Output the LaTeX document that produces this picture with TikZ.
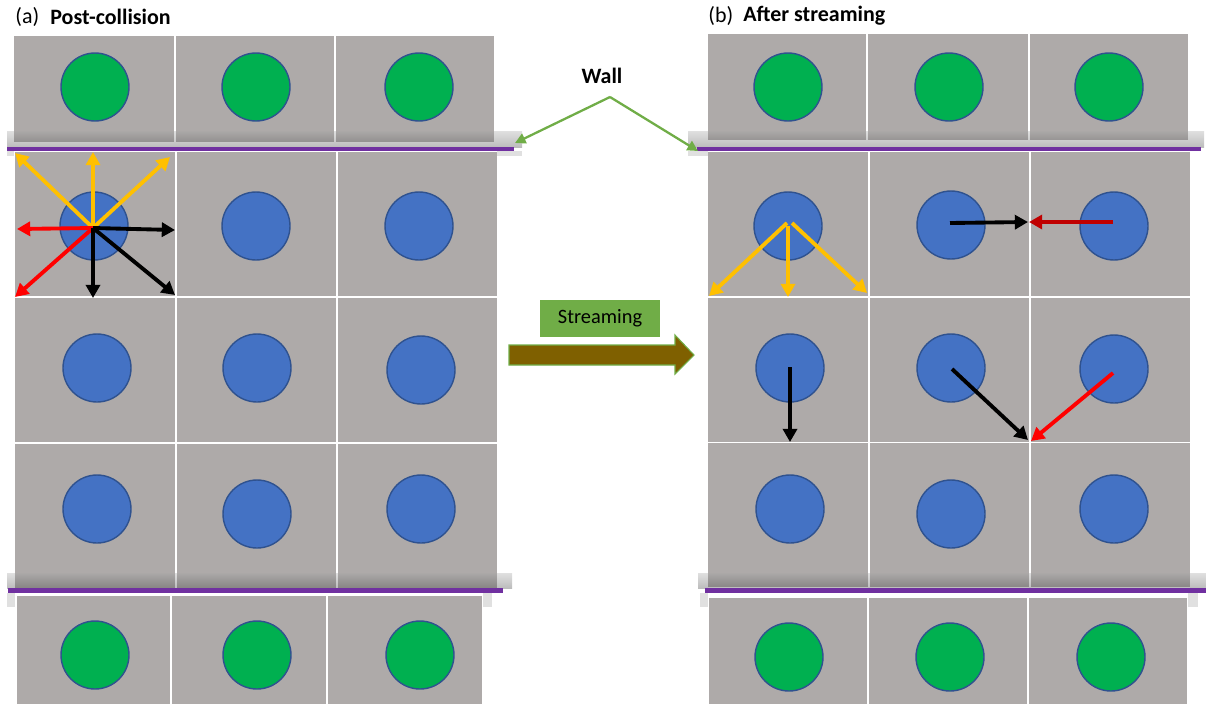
\documentclass[tikz,border=0pt]{standalone}
\usepackage{fontspec}
\setmainfont{Carlito}
\usetikzlibrary{arrows.meta}

\definecolor{cellgray}{RGB}{174,170,169}
\definecolor{dotgreen}{RGB}{0,176,80}
\definecolor{dotblue}{RGB}{68,114,196}
\definecolor{dotedge}{RGB}{47,82,143}
\definecolor{wallpurple}{RGB}{112,48,160}
\definecolor{vecyellow}{RGB}{255,192,0}
\definecolor{vecdarkred}{RGB}{192,0,0}
\definecolor{labelgreen}{RGB}{112,173,71}
\definecolor{arrowbrown}{RGB}{127,96,0}

\tikzset{
  fluid/.style={circle, fill=dotblue, draw=dotedge, line width=0.8pt, minimum size=1.36cm, inner sep=0pt},
  solid/.style={fluid, fill=dotgreen},
  vec/.style={line width=2.2pt, -{Triangle[length=7.5pt,width=8pt]}},
  wallshade/.style={top color=black!35, bottom color=black!75, opacity=0.35},
  wallline/.style={labelgreen, line width=1.3pt, -{Triangle[length=6pt,width=6pt]}},
  title/.style={anchor=west, inner sep=0pt, font=\fontsize{12.5}{15}\selectfont},
}

\begin{document}
\begin{tikzpicture}[x=0.02cm, y=-0.02cm]
  \useasboundingbox (0,0) rectangle (1206,704);

  % titles
  \node[title] (ta) at (15,17) {(a)};
  \node[title, font=\fontsize{12.5}{15}\selectfont\bfseries] (tpost) at (50,17) {Post-collision};
  \node[title] (tb) at (708,16) {(b)};
  \node[title, font=\fontsize{12.5}{15}\selectfont\bfseries] (tafter) at (743,16) {After streaming};

  % lattice cells
  \foreach \x/\w in {14/160,176/158,336/158} \fill[cellgray] (\x,36) rectangle ++(\w,106);
  \foreach \x/\w in {708/158,868/160,1030/158} \fill[cellgray] (\x,34) rectangle ++(\w,106);
  \foreach \x/\w in {15/160,177/159,338/159}
    \foreach \y in {152,298,444} \fill[cellgray] (\x,\y) rectangle ++(\w,144);
  \foreach \x/\w in {708/160,870/159,1031/159}
    \foreach \y in {152,298,443} \fill[cellgray] (\x,\y) rectangle ++(\w,144);
  \foreach \x/\w in {17/153,172/154,328/154} \fill[cellgray] (\x,596) rectangle ++(\w,108);
  \foreach \x/\w in {709/158,869/158,1029/158} \fill[cellgray] (\x,598) rectangle ++(\w,106);

  % walls
  \shade[wallshade] (7,131) rectangle (522,147);
  \shade[wallshade] (688,131) rectangle (1204,147);
  \shade[wallshade] (7,573) rectangle (512,588);
  \shade[wallshade] (698,573) rectangle (1206,588);
  \fill[black!12] (7,151) rectangle (14,156);
  \fill[black!12] (497,151) rectangle (522,156);
  \fill[black!12] (688,151) rectangle (708,156);
  \fill[black!12] (7,593) rectangle (15,607);
  \fill[black!12] (483,593) rectangle (492,607);
  \fill[black!12] (700,593) rectangle (708,607);
  \fill[black!12] (1188,593) rectangle (1198,607);
  \fill[wallpurple] (7,147) rectangle (514,151);
  \fill[wallpurple] (697,147) rectangle (1201,151);
  \fill[wallpurple] (8,588) rectangle (503,593);
  \fill[wallpurple] (705,588) rectangle (1206,593);

  % left lattice nodes
  \node[solid] (lt1) at (95,87) {};
  \node[solid] (lt2) at (256,87) {};
  \node[solid] (lt3) at (419,87) {};
  \node[fluid] (l11) at (94,226) {};
  \node[fluid] (l12) at (256,226) {};
  \node[fluid] (l13) at (419,226) {};
  \node[fluid] (l21) at (97,368) {};
  \node[fluid] (l22) at (257,368) {};
  \node[fluid] (l23) at (421,370) {};
  \node[fluid] (l31) at (97,509) {};
  \node[fluid] (l32) at (257,514) {};
  \node[fluid] (l33) at (421,509) {};
  \node[solid] (lb1) at (95,655) {};
  \node[solid] (lb2) at (257,655) {};
  \node[solid] (lb3) at (420,655) {};

  % right lattice nodes
  \node[solid] (rt1) at (788,87) {};
  \node[solid] (rt2) at (949,87) {};
  \node[solid] (rt3) at (1109,87) {};
  \node[fluid] (r11) at (788,226) {};
  \node[fluid] (r12) at (951,225) {};
  \node[fluid] (r13) at (1114,226) {};
  \node[fluid] (r21) at (790,368) {};
  \node[fluid] (r22) at (951,368) {};
  \node[fluid] (r23) at (1114,369) {};
  \node[fluid] (r31) at (790,509) {};
  \node[fluid] (r32) at (951,514) {};
  \node[fluid] (r33) at (1114,509) {};
  \node[solid] (rb1) at (789,657) {};
  \node[solid] (rb2) at (950,657) {};
  \node[solid] (rb3) at (1111,657) {};

  % post-collision populations
  \coordinate (o) at (93,228);
  \coordinate (pnw) at (15,153);
  \coordinate (pn) at (93,152);
  \coordinate (pne) at (170,157);
  \coordinate (pw) at (17,229);
  \coordinate (psw) at (15,297);
  \coordinate (pe) at (175,230);
  \coordinate (ps) at (93,298);
  \coordinate (pse) at (175,295);
  \path (o) [vec, vecyellow] edge (pnw) edge (pn) edge (pne);
  \path (o) [vec, red] edge (pw) edge (psw);
  \path (o) [vec, black] edge (pe) edge (ps) edge (pse);

  % streamed populations
  \coordinate (qsw) at (709,296);
  \coordinate (qs) at (788,297);
  \coordinate (qse) at (867,293);
  \coordinate (qa) at (1028,222);
  \coordinate (qb) at (1029,222);
  \coordinate (qc) at (790,442);
  \coordinate (qd) at (1028,440);
  \coordinate (qe) at (1031,441);
  \path (787,223) [vec, vecyellow] edge (qsw);
  \path (r11.center) [vec, vecyellow] edge (qs);
  \path (792,223) [vec, vecyellow] edge (qse);
  \path (950,223) [vec, black] edge (qa);
  \path (1113,222) [vec, vecdarkred] edge (qb);
  \path (790,367) [vec, black] edge (qc);
  \path (952,369) [vec, black] edge (qd);
  \path (1113,373) [vec, red] edge (qe);

  % wall label
  \node[font=\fontsize{12.5}{15}\selectfont\bfseries] (wall) at (602,76) {Wall};
  \coordinate (wtip) at (610,97);
  \coordinate (wl) at (515,143);
  \coordinate (wr) at (698,151);
  \path (wtip) [wallline] edge (wl) edge (wr);

  % streaming step
  \node[fill=labelgreen, minimum width=2.4cm, minimum height=0.74cm, inner sep=0pt,
        font=\fontsize{11.6}{14}\selectfont] (stream) at (600,318.5) {Streaming};
  \filldraw[fill=arrowbrown, draw=labelgreen, line width=0.6pt]
    (509,345) -- (675,345) -- (675,335) -- (694,355) -- (675,374) -- (675,365) -- (509,365) -- cycle;
\end{tikzpicture}
\end{document}
